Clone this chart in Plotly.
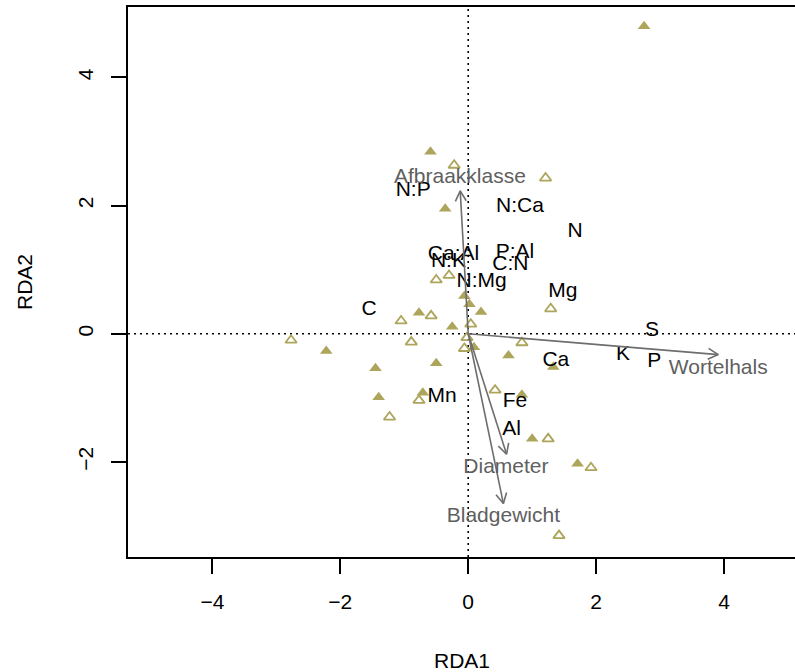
import math
import plotly.graph_objects as go

# ---- data ----
# filled triangles (site scores, group 1)
filled_x = [2.75, -0.59, -0.36, -0.06, 0.02, 0.20, -0.25, -0.77, 0.09, 0.63,
            1.33, -0.50, -2.22, -1.45, -1.40, -0.71, 0.84, 1.00, 1.71]
filled_y = [4.80, 2.84, 1.95, 0.59, 0.46, 0.34, 0.11, 0.33, -0.21, -0.34,
            -0.52, -0.46, -0.27, -0.54, -0.99, -0.92, -0.95, -1.64, -2.03]

# open triangles (site scores, group 2)
open_x = [-0.22, 1.21, -0.50, -0.30, -1.05, -0.58, 0.04, -0.02, -0.06, 0.84,
          1.29, -2.77, -0.89, -0.77, -1.23, 0.42, 1.25, 1.92, 1.42]
open_y = [2.63, 2.43, 0.84, 0.91, 0.20, 0.28, 0.15, -0.06, -0.23, -0.14,
          0.39, -0.10, -0.13, -1.04, -1.30, -0.88, -1.64, -2.09, -3.15]

# response variable (species) labels
sp_names = ["N:P", "N:Ca", "N", "P:Al", "C:N", "N:Mg", "Mg", "S", "K", "P",
            "Ca", "Fe", "Al", "Mn", "C", "Ca:Al", "N:K"]
sp_x = [-0.86, 0.81, 1.67, 0.73, 0.66, 0.21, 1.48, 2.875, 2.42, 2.91,
        1.37, 0.73, 0.68, -0.41, -1.55, -0.23, -0.31]
sp_y = [2.23, 1.98, 1.60, 1.27, 1.07, 0.81, 0.66, 0.05, -0.33, -0.44,
        -0.425, -1.06, -1.50, -0.98, 0.37, 1.24, 1.12]

# explanatory variable arrows (biplot scores)
env_names = ["Afbraakklasse", "Wortelhals", "Diameter", "Bladgewicht"]
env_x = [-0.125, 3.91, 0.60, 0.55]
env_y = [2.23, -0.325, -1.88, -2.65]
envlab_x = [-0.13, 3.91, 0.59, 0.55]
envlab_y = [2.43, -0.54, -2.085, -2.85]

x_ticks = [-4, -2, 0, 2, 4]
y_ticks = [-2, 0, 2, 4]

# ---- styling ----
OLIVE = "#ADA55B"
ARROW = "#6E6E6E"
LABGRAY = "#5F5F5F"
FONT = "Liberation Sans, Arial, sans-serif"
FS = 21

fig = go.Figure()

fig.add_trace(go.Scatter(
    x=filled_x, y=filled_y, mode="markers",
    marker=dict(symbol="triangle-up", size=11, color=OLIVE, line=dict(width=0)),
    hoverinfo="skip", showlegend=False))
fig.add_trace(go.Scatter(
    x=open_x, y=open_y, mode="markers",
    marker=dict(symbol="triangle-up-open", size=10, color=OLIVE,
                line=dict(width=1.8, color=OLIVE)),
    hoverinfo="skip", showlegend=False))

fig.add_trace(go.Scatter(
    x=sp_x, y=sp_y, mode="text", text=sp_names,
    textposition="middle center",
    textfont=dict(family=FONT, size=FS, color="#000000"),
    hoverinfo="skip", showlegend=False))

# arrows: shaft + open V head computed from the tip coordinates
head_len = 0.18
head_ang = math.radians(28)
for tx, ty in zip(env_x, env_y):
    norm = math.hypot(tx, ty)
    dx, dy = tx / norm, ty / norm
    hx, hy, hz = [], [], []
    for s in (1, -1):
        c, sn = math.cos(s * head_ang), math.sin(s * head_ang)
        rx = dx * c - dy * sn
        ry = dx * sn + dy * c
        hx.append(tx - head_len * rx)
        hy.append(ty - head_len * ry)
    xs = [0, tx, None, hx[0], tx, hx[1]]
    ys = [0, ty, None, hy[0], ty, hy[1]]
    fig.add_trace(go.Scatter(
        x=xs, y=ys, mode="lines",
        line=dict(color=ARROW, width=1.6),
        hoverinfo="skip", showlegend=False))

fig.add_trace(go.Scatter(
    x=envlab_x, y=envlab_y, mode="text", text=env_names,
    textposition="middle center",
    textfont=dict(family=FONT, size=FS, color=LABGRAY),
    hoverinfo="skip", showlegend=False))

# dotted reference lines through origin
fig.add_shape(type="line", xref="x", yref="paper", x0=0, x1=0, y0=0, y1=1,
              line=dict(color="black", width=1.6, dash="2px,4px"), layer="below")
fig.add_shape(type="line", xref="paper", yref="y", x0=0, x1=1, y0=0, y1=0,
              line=dict(color="black", width=1.6, dash="2px,4px"), layer="below")

# axis titles
fig.add_annotation(text="RDA1", xref="paper", yref="paper", x=0.5, y=0,
                   xanchor="center", yanchor="middle", yshift=-103,
                   showarrow=False, font=dict(family=FONT, size=FS, color="black"))
fig.add_annotation(text="RDA2", xref="paper", yref="paper", x=0, y=0.5,
                   xanchor="center", yanchor="middle", xshift=-104, textangle=-90,
                   showarrow=False, font=dict(family=FONT, size=FS, color="black"))

fig.update_layout(
    width=795, height=672,
    margin=dict(l=128, r=0, t=7, b=115, pad=0),
    paper_bgcolor="white", plot_bgcolor="white",
    font=dict(family=FONT, size=FS, color="black"),
    xaxis=dict(range=[-5.32, 5.11], tickvals=x_ticks, ticks="outside",
               ticklen=15, tickwidth=1.6, tickcolor="black",
               showline=True, linecolor="black", linewidth=2, mirror=True,
               showgrid=False, zeroline=False,
               tickfont=dict(family=FONT, size=FS, color="black"),
               ticklabelstandoff=10),
    yaxis=dict(range=[-3.484, 5.10], tickvals=y_ticks, ticks="outside",
               ticklen=15, tickwidth=1.6, tickcolor="black",
               showline=True, linecolor="black", linewidth=2, mirror=False,
               showgrid=False, zeroline=False, tickangle=-90,
               tickfont=dict(family=FONT, size=FS, color="black"),
               ticklabelstandoff=10),
)

fig.write_html("out.html")
